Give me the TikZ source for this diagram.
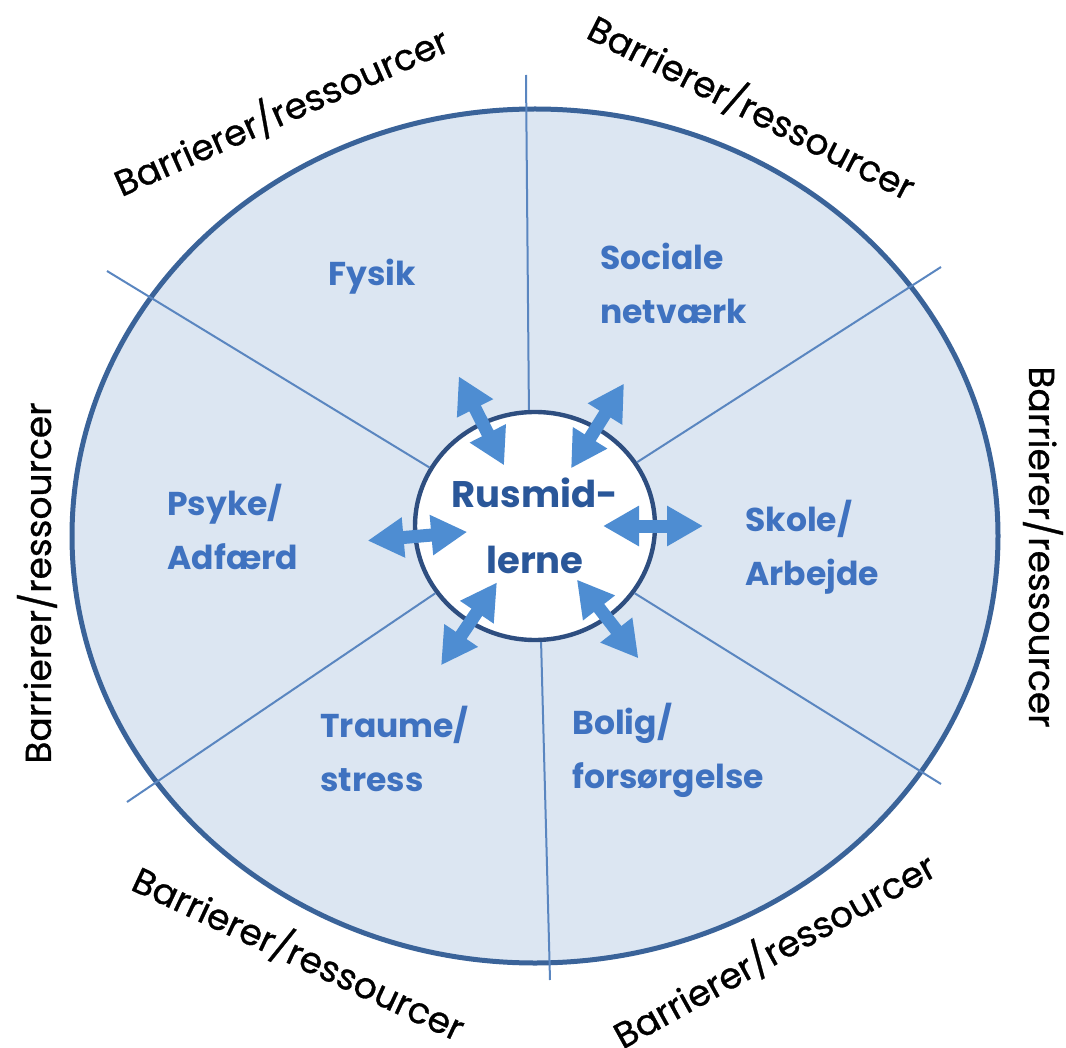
\documentclass[tikz,border=0pt]{standalone}
\usepackage{fontspec}
\setmainfont{Poppins}
\newfontfamily\barfont{Poppins}[FakeBold=0.8]
\usetikzlibrary{arrows.meta}
\usetikzlibrary{shapes.geometric}
\definecolor{ringfill}{HTML}{DCE6F2}
\definecolor{ringline}{HTML}{3A6399}
\definecolor{divline}{HTML}{5A86C0}
\definecolor{hubline}{HTML}{2E4E80}
\definecolor{arrowblue}{HTML}{4E8DD2}
\definecolor{areablue}{HTML}{3F72C0}
\definecolor{hubblue}{HTML}{2A5799}

\begin{document}
\begin{tikzpicture}[x=0.5pt,y=-0.5pt,
                    divider/.style={draw=divline, line width=1pt},
                    area/.style={text=areablue, font=\bfseries\fontsize{16.5}{27}\selectfont,
                                 align=left, anchor=west, inner sep=0pt},
                    barrier/.style={font=\barfont\fontsize{18}{22}\selectfont, inner sep=0pt},
                    biarrow/.style={draw=arrowblue, line width=6.5pt,
                                    {Triangle[width=19pt,length=18pt]}-{Triangle[width=19pt,length=18pt]}}]
    \useasboundingbox (0,0) rectangle (1066,1048);

    % outer ring
    \draw[fill=ringfill, draw=ringline, line width=2.5pt] (535,536) ellipse [x radius=463, y radius=427];

    % hub
    \node[ellipse, draw=hubline, line width=2.2pt, fill=white, inner sep=0pt,
          minimum width=120pt, minimum height=114pt,
          text=hubblue, font=\bfseries\fontsize{18.5}{33}\selectfont, align=center]
          (rus) at (535,526) {Rusmid-\\lerne};

    % dividers
    \coordinate (d1) at (526,75);
    \coordinate (d2) at (941,267);
    \coordinate (d3) at (941,784);
    \coordinate (d4) at (550,980);
    \coordinate (d5) at (127,802);
    \coordinate (d6) at (107,271);
    \foreach \ang/\tip in {93/d1,32/d2,-34/d3,-87/d4,214/d5,151/d6}
        \draw[divider] (rus.\ang) -- (\tip);

    % arrows
    \foreach \ang in {117,58,0,185,236,-52}
        \draw[biarrow] ([shift={(\ang:34pt)}]rus.center) -- ([shift={(\ang:84pt)}]rus.center);

    % areas
    \node[area] (fysik) at (328,277) {Fysik};
    \node[area] (sociale) at (600,283) {Sociale\\netværk};
    \node[area] (psyke) at (167,527) {Psyke/\\Adfærd};
    \node[area] (skole) at (745,547) {Skole/\\Arbejde};
    \node[area] (traume) at (320,749) {Traume/\\stress};
    \node[area] (bolig) at (572,750) {Bolig/\\forsørgelse};

    % barrierer
    \node[barrier, rotate=24] (bTL) at (281,111) {Barrierer/ressourcer};
    \node[barrier, rotate=-27] (bTR) at (752,107) {Barrierer/ressourcer};
    \node[barrier, rotate=-90] (bR) at (1043,547) {Barrierer/ressourcer};
    \node[barrier, rotate=29] (bBR) at (774,950) {Barrierer/ressourcer};
    \node[barrier, rotate=-25] (bBL) at (299,953) {Barrierer/ressourcer};
    \node[barrier, rotate=90] (bL) at (37,583) {Barrierer/ressourcer};
\end{tikzpicture}
\end{document}
